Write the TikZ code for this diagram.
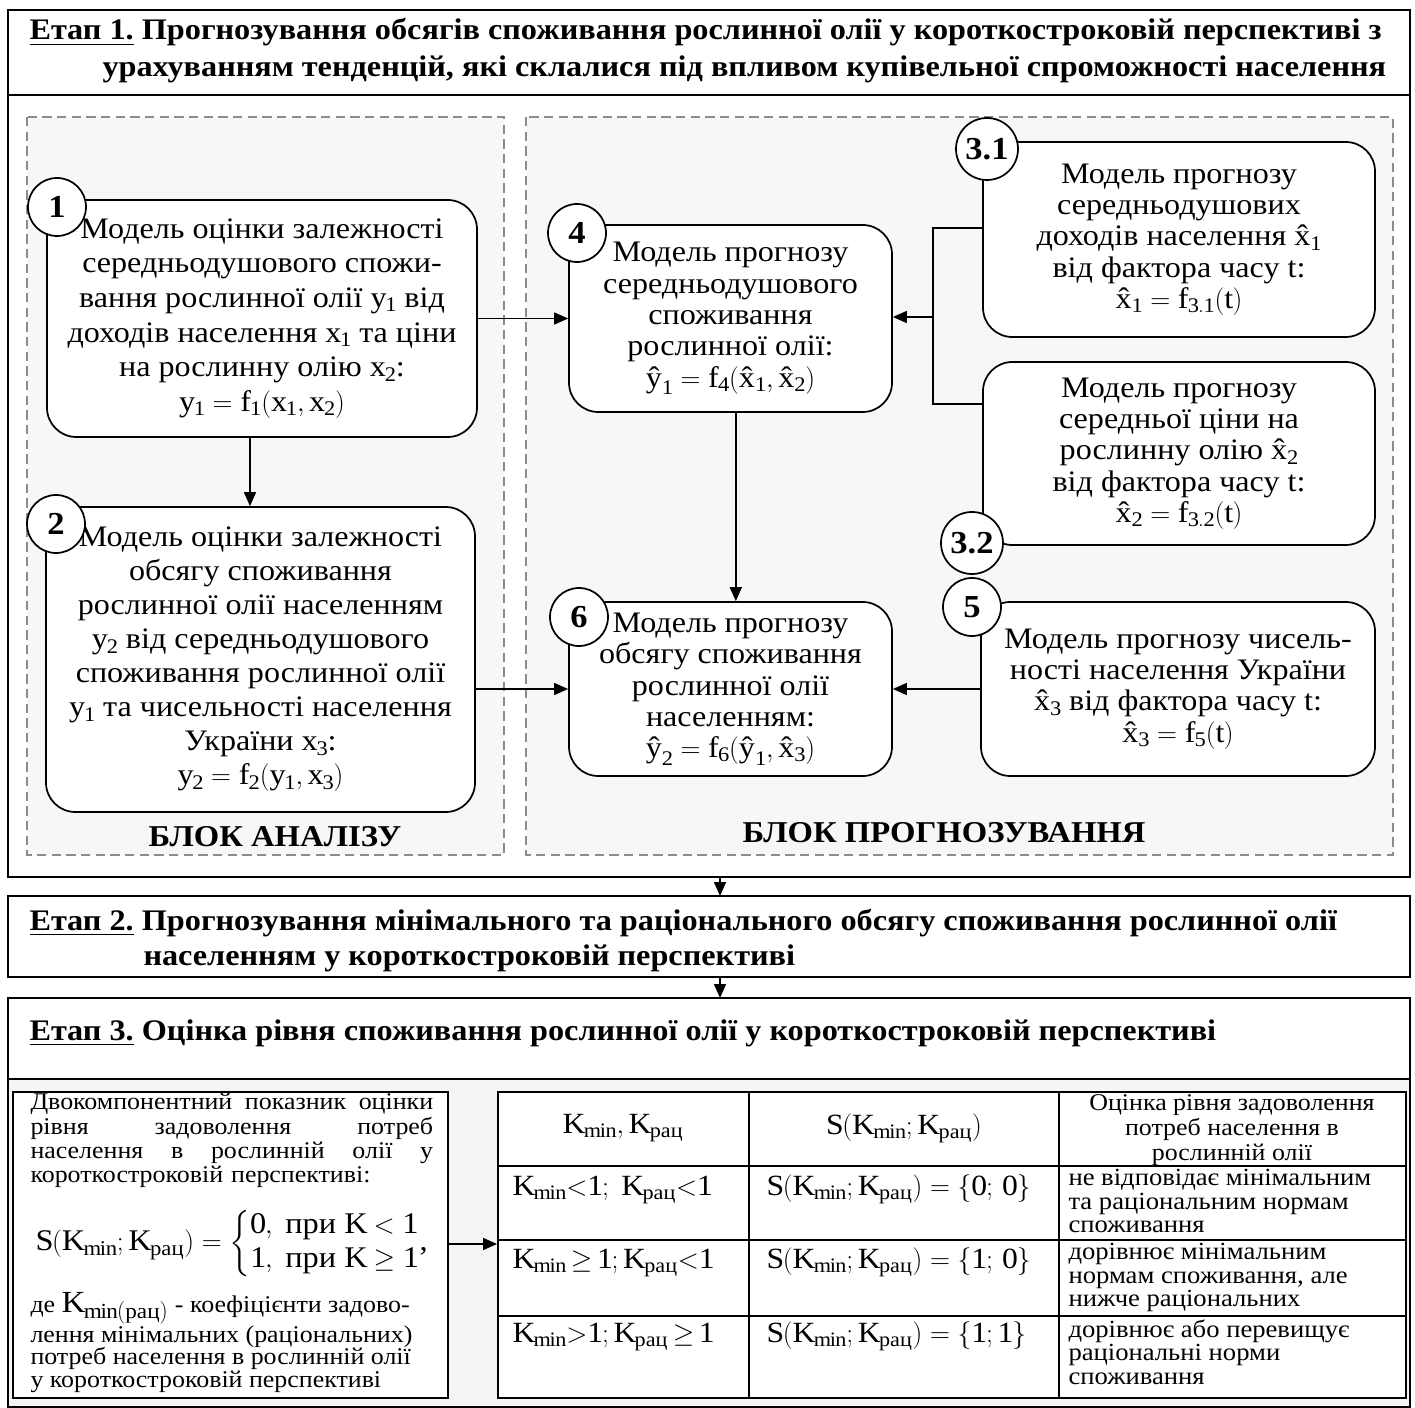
\documentclass[tikz,border=0pt]{standalone}
\usepackage{amsmath}
\usepackage{fontspec}
\setmainfont{Liberation Serif}[FakeStretch=1.08]
\usetikzlibrary{arrows.meta}

\newcommand{\fm}[1]{\ensuremath{\mathrm{#1}}}
\newcommand{\xhat}{\text{\^x}}
\newcommand{\yhat}{\text{\^y}}
\newcommand{\Kmin}{K_{min}}
\newcommand{\Krac}{K_{\text{рац}}}
\newcommand{\fullline}[1]{\leavevmode\hbox to 302pt{#1}}

\tikzset{every picture/.style={line width=0.75pt}}
\tikzset{
  model/.style={draw, line width=1.3pt, rounded corners=22pt, fill=white, align=center, inner sep=1pt, font=\fontsize{22.3}{23.5}\selectfont},
  num/.style={draw, circle, line width=1.3pt, fill=white, inner sep=0pt, minimum size=43.5pt, font=\bfseries\fontsize{24}{24}\selectfont},
  blok/.style={draw=black!45, dash pattern=on 7pt off 4pt, line width=1.3pt, fill=black!3},
  frame/.style={draw, line width=1.6pt},
  grid/.style={line width=1.4pt},
  arr/.style={-{Triangle[length=10.5pt,width=9pt]}, line width=1.1pt},
  etap/.style={anchor=base west, inner sep=0pt, font=\bfseries\fontsize{22.4}{25}\selectfont},
  blokname/.style={inner sep=0pt, font=\bfseries\fontsize{22.7}{22.7}\selectfont},
  cell/.style={inner sep=0pt, anchor=base west, font=\fontsize{22}{24}\selectfont},
  note/.style={inner sep=0pt, anchor=north west, align=left, font=\fontsize{18.5}{17.6}\selectfont}
}

\begin{document}
\begin{tikzpicture}[x=0.75pt,y=0.75pt,yscale=-1,xscale=1]
    \useasboundingbox (0,0) rectangle (1415,1408);

    %Stage 1 frame
    \draw[frame] (8,10) rectangle (1410,877);
    \draw[frame] (8,95) -- (1410,95);
    \node[etap] (t1a) at (29,40) {\underline{Етап 1.} Прогнозування обсягів споживання рослинної олії у короткостроковій перспективі з};
    \node[etap] (t1b) at (102,77) {урахуванням тенденцій, які склалися під впливом купівельної спроможності населення};

    %Dashed blocks
    \draw[blok] (27,117) rectangle (504,855);
    \draw[blok] (526,117) rectangle (1393,855);
    \node[blokname] (ba) at (275,837) {БЛОК АНАЛІЗУ};
    \node[blokname] (bp) at (944,833) {БЛОК ПРОГНОЗУВАННЯ};

    %Analysis models
    \node[model, minimum width=322.5pt, minimum height=177.75pt, font=\fontsize{22.3}{26}\selectfont] (m1) at (262,318.5) {Модель оцінки залежності\\ середньодушового спожи-\\ вання рослинної олії \fm{y_1} від\\ доходів населення \fm{x_1} та ціни\\ на рослинну олію \fm{x_2}:\\ $\fm{y_1 = f_1(x_1, x_2)}$};
    \node[model, minimum width=321.75pt, minimum height=228.75pt, font=\fontsize{22.3}{25.5}\selectfont] (m2) at (260.5,659.5) {Модель оцінки залежності\\ обсягу споживання\\ рослинної олії населенням\\ \fm{y_2} від середньодушового\\ споживання рослинної олії\\ \fm{y_1} та чисельності населення\\ України \fm{x_3}:\\ $\fm{y_2 = f_2(y_1, x_3)}$};

    %Forecast models
    \node[model, minimum width=242.25pt, minimum height=140.25pt] (m4) at (730.5,318.5) {Модель прогнозу\\ середньодушового\\ споживання\\ рослинної олії:\\ $\fm{\yhat_1 = f_4(\xhat_1, \xhat_2)}$};
    \node[model, minimum width=242.25pt, minimum height=130.5pt] (m6) at (730.5,689) {Модель прогнозу\\ обсягу споживання\\ рослинної олії\\ населенням:\\ $\fm{\yhat_2 = f_6(\yhat_1, \xhat_3)}$};
    \node[model, minimum width=294pt, minimum height=146.25pt] (m31) at (1179,239.5) {Модель прогнозу\\ середньодушових\\ доходів населення \fm{\xhat_1}\\ від фактора часу t:\\ $\fm{\xhat_1 = f_{3.1}(t)}$};
    \node[model, minimum width=294pt, minimum height=137.25pt] (m32) at (1179,453.5) {Модель прогнозу\\ середньої ціни на\\ рослинну олію \fm{\xhat_2}\\ від фактора часу t:\\ $\fm{\xhat_2 = f_{3.2}(t)}$};
    \node[model, minimum width=295.5pt, minimum height=130.5pt] (m5) at (1178,689) {Модель прогнозу чисель-\\ ності населення України\\ \fm{\xhat_3} від фактора часу t:\\ $\fm{\xhat_3 = f_5(t)}$};

    %Numbers
    \node[num] (n1) at (57,207) {1};
    \node[num] (n2) at (56,524) {2};
    \node[num] (n4) at (577,233) {4};
    \node[num] (n6) at (579,617) {6};
    \node[num, minimum size=46.5pt] (n31) at (987,149) {3.1};
    \node[num, minimum size=46.5pt] (n32) at (972,543) {3.2};
    \node[num] (n5) at (972,607) {5};

    %Connectors
    \coordinate (j31) at (933,228);
    \coordinate (j32) at (933,404);
    \coordinate (jn) at (933,317);
    \draw[arr] (m1.east) -- (m4.west);
    \draw[arr] ([xshift=-9pt]m1.south) -- ([xshift=-9pt]m1.south |- m2.north);
    \draw[arr] (m2.east |- m6.west) -- (m6.west);
    \draw[arr] ([xshift=4pt]m4.south) -- ([xshift=4pt]m6.north);
    \draw[arr] (m5.west) -- (m6.east);
    \draw[line width=1.1pt] (m31.west |- j31) -- (j31) -- (j32) -- (m32.west |- j32);
    \draw[arr] (jn) -- (m4.east |- jn);

    %Stage 2
    \coordinate (e1) at (720,877);
    \coordinate (e2t) at (720,896);
    \coordinate (e2b) at (720,977);
    \coordinate (e3) at (720,998);
    \draw[frame] (8,896) rectangle (1410,977);
    \node[etap] (t2a) at (29,930) {\underline{Етап 2.} Прогнозування мінімального та раціонального обсягу споживання рослинної олії};
    \node[etap] (t2b) at (143,965) {населенням у короткостроковій перспективі};
    \draw[arr] (e1) -- (e2t);
    \draw[arr] (e2b) -- (e3);

    %Stage 3
    \fill[black!4] (8,1079) rectangle (1410,1407);
    \draw[frame] (8,998) rectangle (1410,1407);
    \draw[line width=2.2pt] (8,1079) -- (1410,1079);
    \node[etap] (t3) at (29,1040) {\underline{Етап 3.} Оцінка рівня споживання рослинної олії у короткостроковій перспективі};

    %Indicator box
    \node[draw, line width=1.4pt, fill=white, minimum width=326.25pt, minimum height=229.5pt, inner sep=0pt] (kbox) at (230.5,1245) {};
    \node[inner sep=0pt, anchor=north west, text width=304pt, align=left, font=\fontsize{18}{18.25}\selectfont] (kpar1) at (30,1093) {\fullline{Двокомпонентний \hfill показник \hfill оцінки}\\ \fullline{рівня \hfill задоволення \hfill потреб}\\ \fullline{населення \hfill в \hfill рослинній \hfill олії \hfill у}\\ короткостроковій перспективі:};
    \node[inner sep=0pt, anchor=west, font=\fontsize{22.5}{24}\selectfont] (kform) at (35,1244) {$\fm{S(\Kmin;\Krac)} = \left\{\begin{array}{@{}l@{}} \fm{0,\ \text{при}\ K<1}\\[2pt] \fm{1,\ \text{при}\ K\geq 1}\end{array}\right.$,};
    \node[inner sep=0pt, anchor=north west, align=left, font=\fontsize{18}{17}\selectfont] (kpar2) at (30,1292) {де {\fontsize{23}{17}\selectfont$\fm{K_{min(\text{рац})}}$} - коефіцієнти задово-\\ лення мінімальних (раціональних)\\ потреб населення в рослинній олії\\ у короткостроковій перспективі};

    %Table
    \node[draw, line width=1.4pt, fill=white, minimum width=681pt, minimum height=229.5pt, inner sep=0pt] (tab) at (952,1245) {};
    \foreach \y in {1166,1240,1316}
        \draw[grid] (498,\y) -- (1406,\y);
    \foreach \x in {749,1059}
        \draw[grid] (\x,1092) -- (\x,1398);
    \draw[arr] (kbox.east |- kform) -- (tab.west |- kform);

    % Text Node
    \node[inner sep=0pt, font=\fontsize{22}{24}\selectfont] (h1) at (623,1128) {$\fm{\Kmin, \Krac}$};
    \node[inner sep=0pt, font=\fontsize{22}{24}\selectfont] (h2) at (904,1128) {$\fm{S(\Kmin;\Krac)}$};
    \node[inner sep=0pt, align=center, font=\fontsize{18}{18.5}\selectfont] (h3) at (1232,1130) {Оцінка рівня задоволення\\ потреб населення в\\ рослинній олії};
    \node[cell] (r1a) at (512,1195) {$\fm{\Kmin{<}1;\ \Krac{<}1}$};
    \node[cell] (r1b) at (766,1195) {$\fm{S(\Kmin;\Krac) = \{0;\,0\}}$};
    \node[note] (r1c) at (1068,1169) {не відповідає мінімальним\\ та раціональним нормам\\ споживання};
    \node[cell] (r2a) at (512,1268) {$\fm{\Kmin\,{\geq}\,1;\Krac{<}1}$};
    \node[cell] (r2b) at (766,1268) {$\fm{S(\Kmin;\Krac) = \{1;\,0\}}$};
    \node[note] (r2c) at (1068,1243) {дорівнює мінімальним\\ нормам споживання, але\\ нижче раціональних};
    \node[cell] (r3a) at (512,1342) {$\fm{\Kmin{>}1;\Krac\,{\geq}\,1}$};
    \node[cell] (r3b) at (766,1342) {$\fm{S(\Kmin;\Krac) = \{1;1\}}$};
    \node[note] (r3c) at (1068,1319) {дорівнює або перевищує\\ раціональні норми\\ споживання};

\end{tikzpicture}
\end{document}
